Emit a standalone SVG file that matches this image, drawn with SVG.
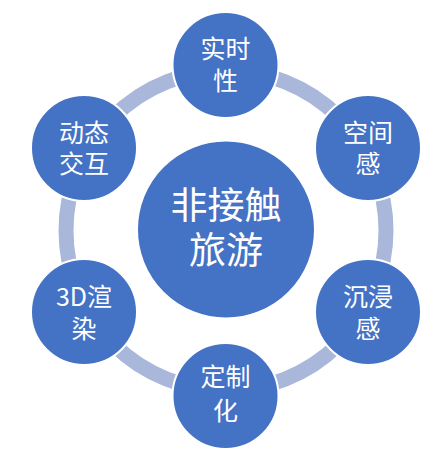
<svg xmlns="http://www.w3.org/2000/svg" width="447" height="456" viewBox="0 0 447 456">
<style>
.n{fill:#4472C4;stroke:#fff;stroke-width:2}
.t{fill:#fff;font-family:"Noto Sans CJK SC","Noto Sans",sans-serif;font-size:25px;text-anchor:middle}
.c{font-size:37px}
</style>
<rect width="447" height="456" fill="#fff"/>
<g id="connectors">
<circle cx="226" cy="230.5" r="160" fill="none" stroke="#A9B8DA" stroke-width="15"/>
</g>
<g id="center">
<circle class="n" cx="226" cy="229.5" r="89"/>
<text class="t c" x="226" y="219">非接触</text>
<text class="t c" x="226" y="264">旅游</text>
</g>
<g id="n1">
<circle class="n" cx="225.5" cy="65" r="53"/>
<text class="t" x="225.5" y="57.5">实时</text>
<text class="t" x="225.5" y="89.5">性</text>
</g>
<g id="n2">
<circle class="n" cx="368" cy="148" r="53"/>
<text class="t" x="368" y="141.5">空间</text>
<text class="t" x="368" y="172.5">感</text>
</g>
<g id="n3">
<circle class="n" cx="368" cy="312" r="53"/>
<text class="t" x="368" y="305.5">沉浸</text>
<text class="t" x="368" y="337.5">感</text>
</g>
<g id="n4">
<circle class="n" cx="225.5" cy="396" r="53"/>
<text class="t" x="225.5" y="385.5">定制</text>
<text class="t" x="225.5" y="419.5">化</text>
</g>
<g id="n5">
<circle class="n" cx="84" cy="312" r="53"/>
<text class="t" x="84" y="305.5">3D渲</text>
<text class="t" x="84" y="337.5">染</text>
</g>
<g id="n6">
<circle class="n" cx="84" cy="148" r="53"/>
<text class="t" x="84" y="141.5">动态</text>
<text class="t" x="84" y="172.5">交互</text>
</g>
</svg>
